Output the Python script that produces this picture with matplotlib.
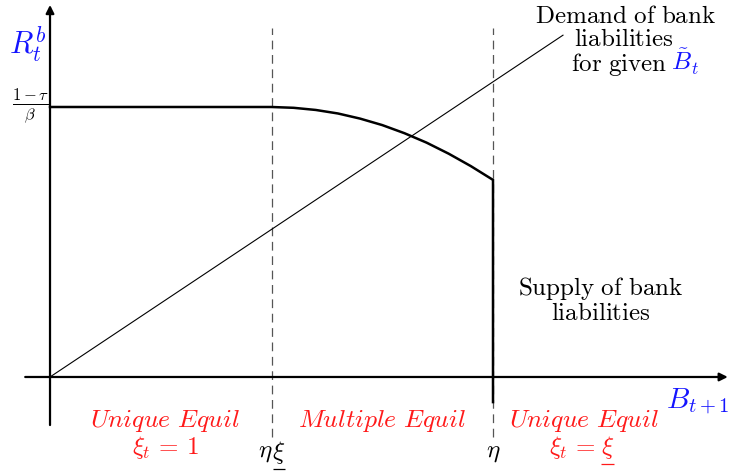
import matplotlib
matplotlib.use("Agg")
import matplotlib.pyplot as plt

plt.rcParams['mathtext.fontset'] = 'cm'
plt.rcParams['font.family'] = ['DejaVu Serif']

# ---- data (schematic units: eta*xi_ = 0.5, eta = 1, (1-tau)/beta = 1) ----
B_low = 0.5          # eta * underline(xi)
B_eta = 1.0          # eta
supply_B = [0.0, 0.5, 0.55, 0.6, 0.65, 0.7, 0.75, 0.8, 0.85, 0.9, 0.95, 1.0, 1.0]
supply_R = [1.0, 1.0, 0.997, 0.989, 0.976, 0.957, 0.933, 0.903, 0.868, 0.827, 0.781, 0.73, -0.093]
demand_B = [0.0, 1.158]
demand_R = [0.0, 1.266]
dash_R = [-0.222, 1.293]

BLUE = '#1414ff'
RED = '#ff1a1a'

fig = plt.figure(figsize=(7.30, 4.72), dpi=100)
ax = fig.add_axes([0, 0, 1, 1])
ax.set_xlim(-0.1129, 1.535)
ax.set_ylim(-0.3519, 1.3963)
ax.axis('off')

# helper: pixel position (from top-left) -> data coords, for text placement
def P(xp, yp):
    return ((xp - 50) / 443.0, (377 - yp) / 270.0)

# axes with arrows
ax.annotate('', xy=(1.530, 0), xytext=(-0.056, 0),
            arrowprops=dict(arrowstyle='-|>', lw=1.6, color='black',
                            mutation_scale=12, shrinkA=0, shrinkB=0))
ax.annotate('', xy=(0, 1.378), xytext=(0, -0.178),
            arrowprops=dict(arrowstyle='-|>', lw=1.6, color='black',
                            mutation_scale=12, shrinkA=0, shrinkB=0))

# dashed thresholds
for b in (B_low, B_eta):
    ax.plot([b, b], dash_R, color='#555555', lw=0.9, dashes=(7, 4.5))

# demand line
ax.plot(demand_B, demand_R, color='black', lw=0.8)
# supply curve
ax.plot(supply_B, supply_R, color='black', lw=1.8, solid_joinstyle='miter')

FS = 18
FI = 18.5
# labels
ax.text(*P(28, 45), r'$R_t^b$', color=BLUE, fontsize=22, ha='center', va='center')
ax.text(*P(698, 402), r'$B_{t+1}$', color=BLUE, fontsize=21, ha='center', va='center')
ax.text(*P(31, 106), r'$\frac{1-\tau}{\beta}$', fontsize=17, ha='center', va='center')

ax.text(*P(626, 16), r'$\mathrm{Demand\ of\ bank}$', fontsize=FS, ha='center', va='center')
ax.text(*P(624, 40), r'$\mathrm{liabilities}$', fontsize=FS, ha='center', va='center')
ax.text(*P(667, 65), r'$\mathrm{for\ given}$', fontsize=FS, ha='right', va='center')
ax.text(*P(671, 62), r'$\tilde{B}_t$', fontsize=FS, color=BLUE, ha='left', va='center')

ax.text(*P(601, 289), r'$\mathrm{Supply\ of\ bank}$', fontsize=FS, ha='center', va='center')
ax.text(*P(601, 314), r'$\mathrm{liabilities}$', fontsize=FS, ha='center', va='center')

ax.text(*P(165, 421), r'$\mathit{Unique\ Equil}$', color=RED, fontsize=FI, ha='center', va='center')
ax.text(*P(165, 448), r'$\xi_t\,=\,1$', color=RED, fontsize=FS, ha='center', va='center')
ax.text(*P(382, 421), r'$\mathit{Multiple\ Equil}$', color=RED, fontsize=FI, ha='center', va='center')
ax.text(*P(584, 421), r'$\mathit{Unique\ Equil}$', color=RED, fontsize=FI, ha='center', va='center')
ax.text(*P(596, 448), r'$\xi_t\,=$', color=RED, fontsize=FS, ha='right', va='center')
xi_r = ax.text(*P(601, 448), r'$\xi$', color=RED, fontsize=FS, ha='left', va='center')

ax.text(*P(272, 453), r'$\eta$', fontsize=FS, ha='right', va='center')
xi_l = ax.text(*P(272, 453), r'$\xi$', fontsize=FS, ha='left', va='center')
ax.text(*P(493, 453), r'$\eta$', fontsize=FS, ha='center', va='center')

# underlines beneath the xi symbols
fig.canvas.draw()
r = fig.canvas.get_renderer()
inv = ax.transData.inverted()
for t, col in ((xi_r, RED), (xi_l, 'black')):
    bb = t.get_window_extent(r)
    (x0, y0), (x1, _) = inv.transform([(bb.x0 + 0.5, bb.y0 - 2.5), (bb.x1 - 0.5, bb.y0)])
    ax.plot([x0, x1], [y0, y0], color=col, lw=0.9, solid_capstyle='butt')

fig.savefig('out.png', dpi=100)
